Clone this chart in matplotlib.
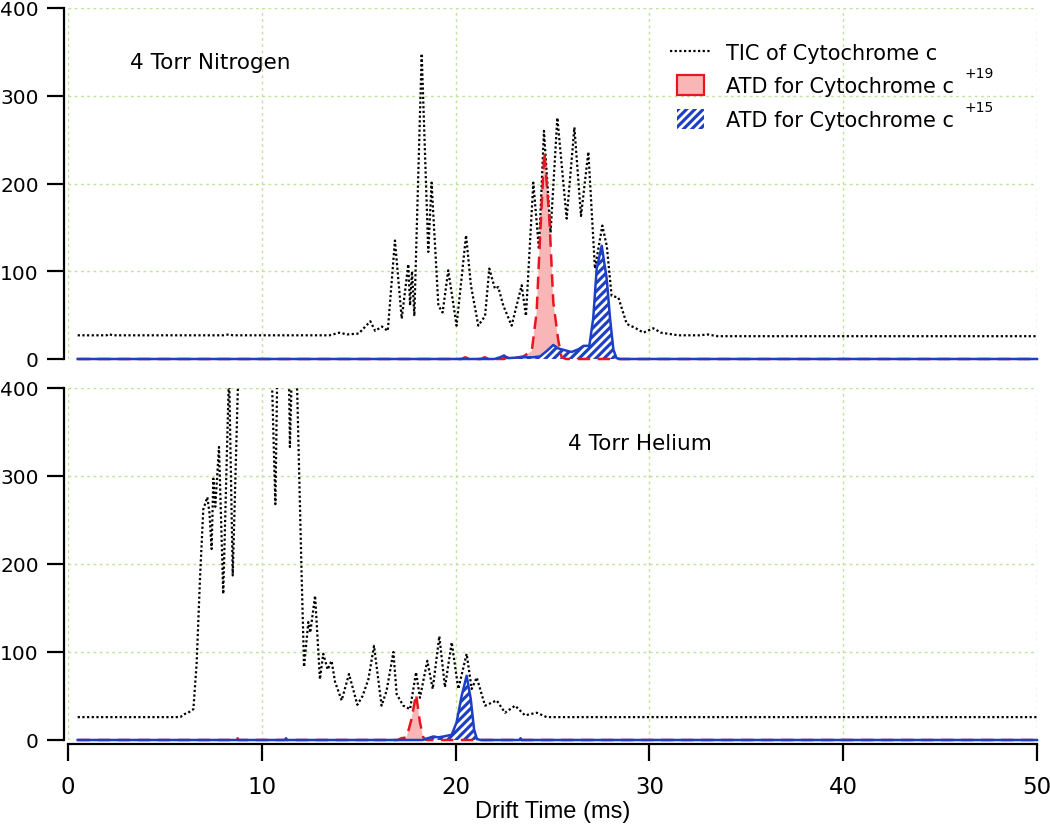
import matplotlib
matplotlib.use("Agg")
import matplotlib.pyplot as plt
from matplotlib.lines import Line2D
from matplotlib.patches import Patch, Rectangle
from matplotlib.legend_handler import HandlerPatch

plt.rcParams['font.family'] = ['DejaVu Sans']
plt.rcParams['hatch.linewidth'] = 2.0

# ---------------- data ----------------
# Top panel: 4 Torr Nitrogen
n2_tic_t = [0.5, 2.0, 2.1, 2.3, 8.0, 8.3, 8.5, 13.5, 14.0, 14.4, 15.0, 15.6, 15.85, 16.2, 16.5,
            16.87, 17.22, 17.56, 17.65, 17.75, 17.87, 18.25, 18.59, 18.76, 19.11, 19.33, 19.62,
            20.05, 20.54, 20.79, 21.17, 21.52, 21.74, 22.03, 22.2, 22.46, 22.89, 23.41, 23.63,
            24.01, 24.30, 24.56, 24.9, 25.25, 25.73, 26.13, 26.47, 26.85, 27.19, 27.57, 27.8,
            28.05, 28.4, 28.83, 29.3, 29.69, 30.2, 30.6, 31.5, 32.6, 33.0, 33.5, 50.0]
n2_tic_v = [27, 27, 28.5, 27, 27, 28, 27, 27, 30, 28, 29, 43, 32, 37, 32,
            135, 46, 108, 61, 100, 49, 348, 122, 201, 61, 53, 101,
            38, 141, 84, 38, 49, 103, 80, 82, 61, 38, 84, 49,
            201, 125, 260, 144, 275, 160, 264, 163, 236, 103, 152, 129,
            72, 70, 40, 35, 30, 35, 30, 27, 27, 28, 26, 26]

n2_z19_t = [0.5, 20.3, 20.5, 20.7, 21.3, 21.5, 21.7, 22.5, 22.7, 23.0, 23.5, 23.93, 24.18,
            24.36, 24.58, 24.84, 25.04, 25.3, 25.47, 25.7, 50.0]
n2_z19_v = [0, 0, 2, 0, 0, 2, 0, 0, 2, 1, 3, 9, 53,
            140, 236, 160, 65, 21, 2, 0, 0]

n2_z15_t = [0.5, 22.0, 22.3, 22.5, 22.7, 23.5, 24.0, 24.36, 24.7, 25.04, 25.3, 25.64, 25.98,
            26.33, 26.6, 26.9, 27.1, 27.28, 27.54, 27.8, 27.97, 28.14, 28.3, 28.5, 50.0]
n2_z15_v = [0, 0, 2, 4, 1, 2, 2, 3, 9, 16, 12, 10, 8,
            11, 15, 15, 46, 103, 129, 91, 46, 11, 1, 0, 0]

# Bottom panel: 4 Torr Helium
he_tic_t = [0.5, 5.8, 5.95, 6.2, 6.47, 6.64, 6.81, 6.98, 7.19, 7.3, 7.41, 7.5, 7.6, 7.79, 8.01,
            8.31, 8.5, 8.79, 9.5, 10.3, 10.51, 10.7, 10.8, 11.2, 11.4, 11.45, 11.55, 11.7, 11.8,
            12.06, 12.18, 12.4, 12.5, 12.75, 13.0, 13.17, 13.4, 13.6, 13.78, 14.12, 14.5, 14.93,
            15.2, 15.5, 15.79, 16.18, 16.44, 16.79, 16.96, 17.3, 17.65, 17.96, 18.16, 18.54,
            18.82, 19.16, 19.45, 19.8, 20.14, 20.57, 20.83, 21.09, 21.52, 22.12, 22.55, 23.07,
            23.58, 24.18, 24.7, 50.0]
he_tic_v = [26, 26, 29, 31, 35, 88, 183, 262, 276, 258, 217, 297, 265, 333, 166,
            420, 187, 420, 650, 700, 420, 268, 420, 600, 420, 333, 420, 450, 420,
            183, 83, 134, 122, 164, 69, 98, 80, 90, 66, 45, 75, 40,
            50, 69, 107, 39, 56, 100, 52, 39, 35, 77, 48, 90,
            58, 118, 60, 111, 58, 98, 58, 71, 39, 45, 31, 39,
            28, 31, 26, 26]

he_z19_t = [0.5, 8.7, 8.75, 8.8, 15.7, 15.75, 15.8, 17.0, 17.2, 17.47, 17.73, 17.96, 18.16,
            18.33, 18.5, 50.0]
he_z19_v = [0, 0, 2, 0, 0, 2, 0, 0, 2, 3, 24, 52, 20, 3, 0, 0]

he_z15_t = [0.5, 11.2, 11.25, 11.3, 18.3, 18.5, 18.85, 19.1, 19.38, 19.8, 20.05, 20.31, 20.57,
            20.78, 20.95, 21.1, 21.3, 23.3, 23.35, 23.4, 50.0]
he_z15_v = [0, 0, 2, 0, 0, 1.5, 4, 3, 4, 6, 20, 50, 73, 47, 12.5, 1, 0, 0, 2, 0, 0]

y_ticks = [0, 100, 200, 300, 400]
x_ticks = [0, 10, 20, 30, 40, 50]
panel_labels = ["4 Torr Nitrogen", "4 Torr Helium"]
legend_labels = ["TIC of Cytochrome c", "ATD for Cytochrome c", "ATD for Cytochrome c"]
charge_labels = ["+19", "+15"]

# ---------------- style ----------------
RED = '#e8161e'
PINK = '#f8b6b6'
BLUE = '#1c3fc6'
GRID = '#bfe39a'
DOTS = (0, (1, 1.1))

fig = plt.figure(figsize=(10.5, 8.29), dpi=100)
left, width = 68 / 1050, (1037 - 68) / 1050
ax_top = fig.add_axes([left, 1 - 360 / 829, width, 351 / 829])
ax_bot = fig.add_axes([left, 1 - 741 / 829, width, 352 / 829])


def draw_panel(ax, tic_t, tic_v, z19_t, z19_v, z15_t, z15_v):
    ax.set_xlim(0, 50)
    ax.set_ylim(0, 400)
    ax.fill_between(z19_t, z19_v, 0, facecolor=PINK, edgecolor='none', zorder=2)
    ax.fill_between(z15_t, z15_v, 0, facecolor=BLUE, edgecolor='white', hatch='////',
                    linewidth=0, zorder=2)
    ax.plot(tic_t, tic_v, color='black', lw=1.6, linestyle=DOTS, zorder=3)
    ax.plot(z19_t, z19_v, color=RED, lw=1.8, linestyle=(0, (5, 3)), zorder=4, clip_on=False)
    ax.plot(z15_t, z15_v, color=BLUE, lw=1.8, zorder=5, clip_on=False)
    ax.set_yticks(y_ticks)
    ax.set_xticks(x_ticks)
    ax.grid(True, color=GRID, linestyle=(0, (2, 2.5)), lw=1.0, zorder=0)
    ax.set_axisbelow(True)
    for s in ['top', 'right']:
        ax.spines[s].set_visible(False)
    ax.spines['left'].set_linewidth(1.6)
    ax.spines['left'].set_position(('outward', 3))
    ax.tick_params(axis='y', direction='out', length=12, width=1.6, pad=6, labelsize=14.5)
    ax.tick_params(axis='x', direction='out', length=12, width=1.6, pad=10, labelsize=16.5)
    for lab in ax.get_xticklabels():
        lab.set_fontfamily('Liberation Sans')
    ax.set_facecolor('none')


draw_panel(ax_top, n2_tic_t, n2_tic_v, n2_z19_t, n2_z19_v, n2_z15_t, n2_z15_v)
draw_panel(ax_bot, he_tic_t, he_tic_v, he_z19_t, he_z19_v, he_z15_t, he_z15_v)

ax_top.spines['bottom'].set_visible(False)
ax_top.tick_params(axis='x', bottom=False, labelbottom=False)

ax_bot.spines['bottom'].set_position(('outward', 3))
ax_bot.spines['bottom'].set_linewidth(1.6)
ax_bot.set_xlabel("Drift Time (ms)", fontsize=17, fontfamily='Liberation Sans', labelpad=1.5)

ax_top.text(3.2, 338, panel_labels[0], fontsize=15.5, va='center', ha='left')
ax_bot.text(25.8, 338, panel_labels[1], fontsize=15.5, va='center', ha='left')


def small_patch(legend, orig_handle, xdescent, ydescent, width, height, fontsize):
    w, h = 20, 14
    return Rectangle((-xdescent + width / 2 - w / 2, -ydescent + height / 2 - h / 2), w, h)


handles = [Line2D([0], [0], color='black', lw=1.6, linestyle=DOTS),
           Patch(facecolor=PINK, edgecolor=RED, lw=1.6),
           Patch(facecolor=BLUE, edgecolor='white', hatch='////', lw=0)]
leg = ax_top.legend(handles, legend_labels, loc='upper left', bbox_to_anchor=(0.621, 0.901),
                    frameon=False, fontsize=15, handlelength=2.0, handletextpad=0.72,
                    labelspacing=0.66, borderaxespad=0, borderpad=0,
                    handler_map={Patch: HandlerPatch(patch_func=small_patch)})

# superscript charge states, placed after the legend layout is known
fig.canvas.draw()
inv = ax_top.transAxes.inverted()
for txt, sup in zip(leg.get_texts()[1:], charge_labels):
    bb = txt.get_window_extent()
    x, y = inv.transform((bb.x1 + 10, (bb.y0 + bb.y1) / 2 + 13))
    ax_top.text(x, y, sup, transform=ax_top.transAxes, fontsize=10, va='center', ha='left')

fig.savefig("out.png", dpi=100)
